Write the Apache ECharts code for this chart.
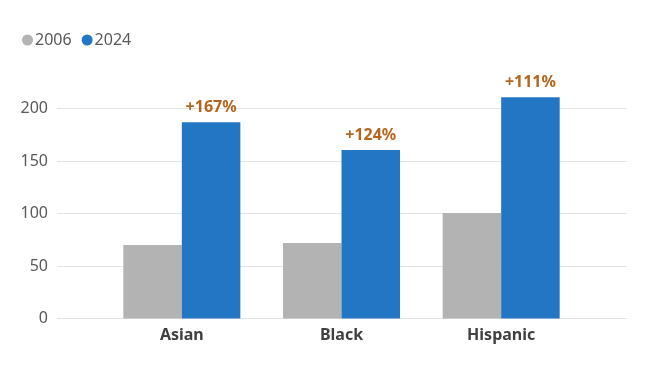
<!DOCTYPE html>
<html>
<head>
<meta charset="utf-8">
<script src="https://cdn.jsdelivr.net/npm/echarts@6/dist/echarts.min.js"></script>
<style>html,body{margin:0;padding:0;background:#fff}#c{width:647px;height:370px}</style>
</head>
<body>
<div id="c"></div>
<script>
var categories = ['Asian', 'Black', 'Hispanic'];
var values2006 = [70, 72, 100.5];
var values2024 = [187, 160.5, 210.7];
var changeLabels = ['+167%', '+124%', '+111%'];
var yTicks = [0, 50, 100, 150, 200];

var FONT = 'Noto Sans';
var chart = echarts.init(document.getElementById('c'));
var gridTop = 56, gridBottom = 51.5;
chart.setOption({
  animation: false,
  textStyle: { fontFamily: FONT },
  legend: {
    left: 17, top: 27,
    icon: 'circle', itemWidth: 11, itemHeight: 11, itemGap: 10,
    textStyle: { color: '#595959', fontSize: 16, fontFamily: FONT, padding: [0,0,0,-3] },
    data: ['2006', '2024']
  },
  grid: [
    { left: 57, right: 20, top: gridTop, bottom: gridBottom },
    { left: 102, right: 66, top: gridTop, bottom: gridBottom }
  ],
  xAxis: [
    { gridIndex: 0, type: 'value', min: 0, max: 1, show: false },
    { gridIndex: 1, type: 'category', data: categories,
      axisLine: { show: false }, axisTick: { show: false },
      axisLabel: { color: '#404040', fontSize: 16, fontWeight: 'bold', margin: 9, fontFamily: FONT } }
  ],
  yAxis: [
    { gridIndex: 0, type: 'value', min: 0, max: 250, interval: 50,
      axisLine: { show: false }, axisTick: { show: false },
      axisLabel: { color: '#595959', fontSize: 16, margin: 9, fontFamily: FONT,
        formatter: function (v) { return yTicks.indexOf(v) >= 0 ? String(v) : ''; } },
      splitLine: { lineStyle: { color: ['#e3e3e3','#e3e3e3','#e3e3e3','#e3e3e3','#e3e3e3','rgba(0,0,0,0)'], width: 1 } } },
    { gridIndex: 1, type: 'value', min: 0, max: 250, interval: 50, show: false, splitLine: { show: false } }
  ],
  series: [
    { name: '2006', type: 'bar', xAxisIndex: 1, yAxisIndex: 1, data: values2006,
      itemStyle: { color: '#b3b3b3' }, barGap: '0%', barCategoryGap: '26.7%' },
    { name: '2024', type: 'bar', xAxisIndex: 1, yAxisIndex: 1, data: values2024,
      itemStyle: { color: '#2376c4' }, barGap: '0%', barCategoryGap: '26.7%',
      label: { show: true, position: 'top', distance: 7, color: '#b5651d', fontSize: 16, fontWeight: 'bold', fontFamily: FONT,
        formatter: function (p) { return changeLabels[p.dataIndex]; } } }
  ]
});
</script>
</body>
</html>
